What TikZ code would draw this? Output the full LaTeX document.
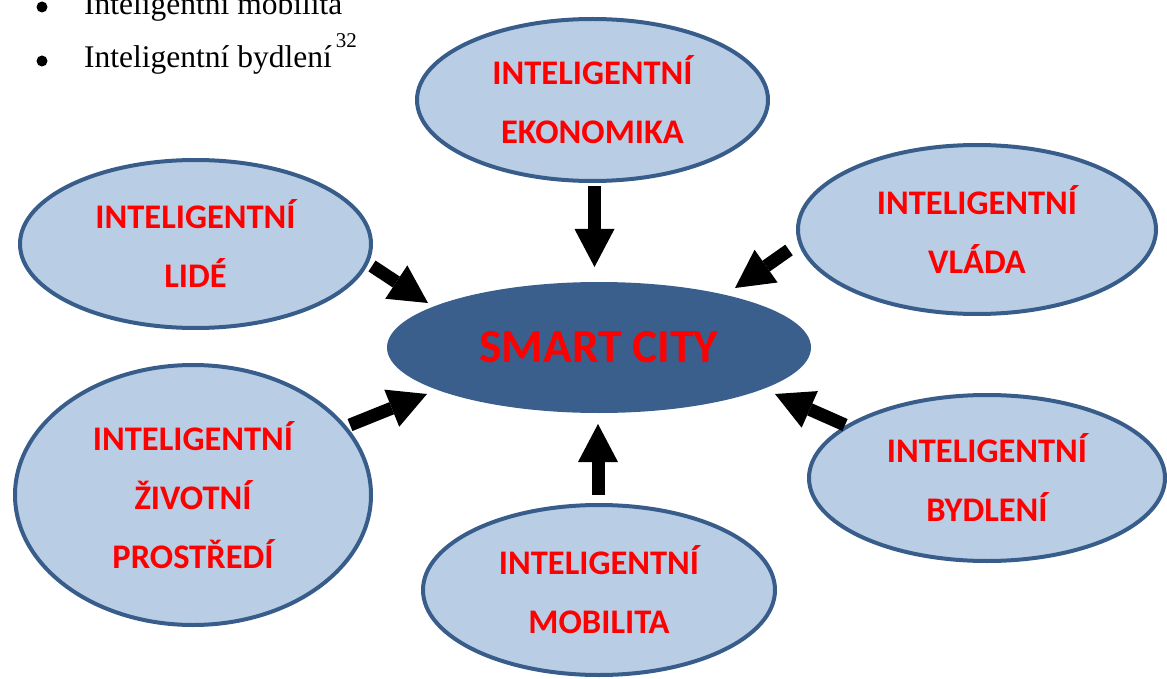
\documentclass[tikz,border=0pt]{standalone}
\usepackage{fontspec}
\setmainfont{Liberation Serif}
\newfontfamily\labelfont{Carlito}
\usetikzlibrary{shapes.geometric,arrows.meta}

\definecolor{bubblefill}{RGB}{185,205,229}
\definecolor{bubbleedge}{RGB}{56,93,138}
\definecolor{hubfill}{RGB}{58,95,141}
\definecolor{labelred}{RGB}{255,0,0}

\begin{document}
\begin{tikzpicture}[x=1pt,y=-1pt,
  bubble/.style={ellipse, draw=bubbleedge, line width=4pt, fill=bubblefill,
    inner sep=0pt, align=center, text=labelred,
    font=\labelfont\bfseries\fontsize{34.5}{59}\selectfont},
  hub/.style={ellipse, fill=hubfill, inner sep=0pt, text=labelred,
    font=\labelfont\bfseries\fontsize{47.5}{56}\selectfont},
  feed/.style={line width=13pt, draw=black,
    -{Triangle[width=40pt,length=38pt,line width=0pt]}},
  dot/.style={circle, fill=black, inner sep=0pt, minimum size=11pt},
  listtext/.style={anchor=base west, inner sep=0pt, font=\fontsize{31.5}{38}\selectfont},
]
\useasboundingbox (0,0) rectangle (1167,679);

% bullet list above the diagram
\node[dot] (b1) at (42,7) {};
\node[listtext] (t1) at (84,15) {Inteligentní mobilita};
\node[dot] (b2) at (42,61) {};
\node[listtext] (t2) at (84,68)
  {Inteligentní bydlení\kern4pt\raisebox{20pt}{\fontsize{21}{21}\selectfont 32}};

% central hub
\node[hub, minimum width=424pt, minimum height=131pt] (hub) at (599,347.5) {SMART CITY};

% surrounding areas
\node[bubble, minimum width=351pt, minimum height=162pt] (eko) at (592.5,100)
  {INTELIGENTNÍ\\EKONOMIKA};
\node[bubble, minimum width=351pt, minimum height=168pt] (lide) at (195.5,244)
  {INTELIGENTNÍ\\LIDÉ};
\node[bubble, minimum width=358pt, minimum height=169pt] (vlada) at (977,229.5)
  {INTELIGENTNÍ\\VLÁDA};
\node[bubble, minimum width=356pt, minimum height=260pt] (zivot) at (193,495)
  {INTELIGENTNÍ\\ŽIVOTNÍ\\PROSTŘEDÍ};
\node[bubble, minimum width=356pt, minimum height=166pt] (byd) at (987,478)
  {INTELIGENTNÍ\\BYDLENÍ};
\node[bubble, minimum width=352pt, minimum height=170pt] (mob) at (599,590)
  {INTELIGENTNÍ\\MOBILITA};

% block arrows pointing at the hub
\coordinate (ekoS) at (594.5,186);   \coordinate (ekoE) at (594.5,267);
\coordinate (lideS) at (372,266);    \coordinate (lideE) at (428,303);
\coordinate (vladaS) at (789,250);   \coordinate (vladaE) at (735,288);
\coordinate (zivotS) at (350,425);   \coordinate (zivotE) at (427,394);
\coordinate (bydS) at (845,425);     \coordinate (bydE) at (775,394);
\coordinate (mobS) at (598,495);     \coordinate (mobE) at (598,424);

\draw[feed] (ekoS) -- (ekoE);
\draw[feed] (lideS) -- (lideE);
\draw[feed] (vladaS) -- (vladaE);
\draw[feed] (zivotS) -- (zivotE);
\draw[feed] (bydS) -- (bydE);
\draw[feed] (mobS) -- (mobE);
\end{tikzpicture}
\end{document}
